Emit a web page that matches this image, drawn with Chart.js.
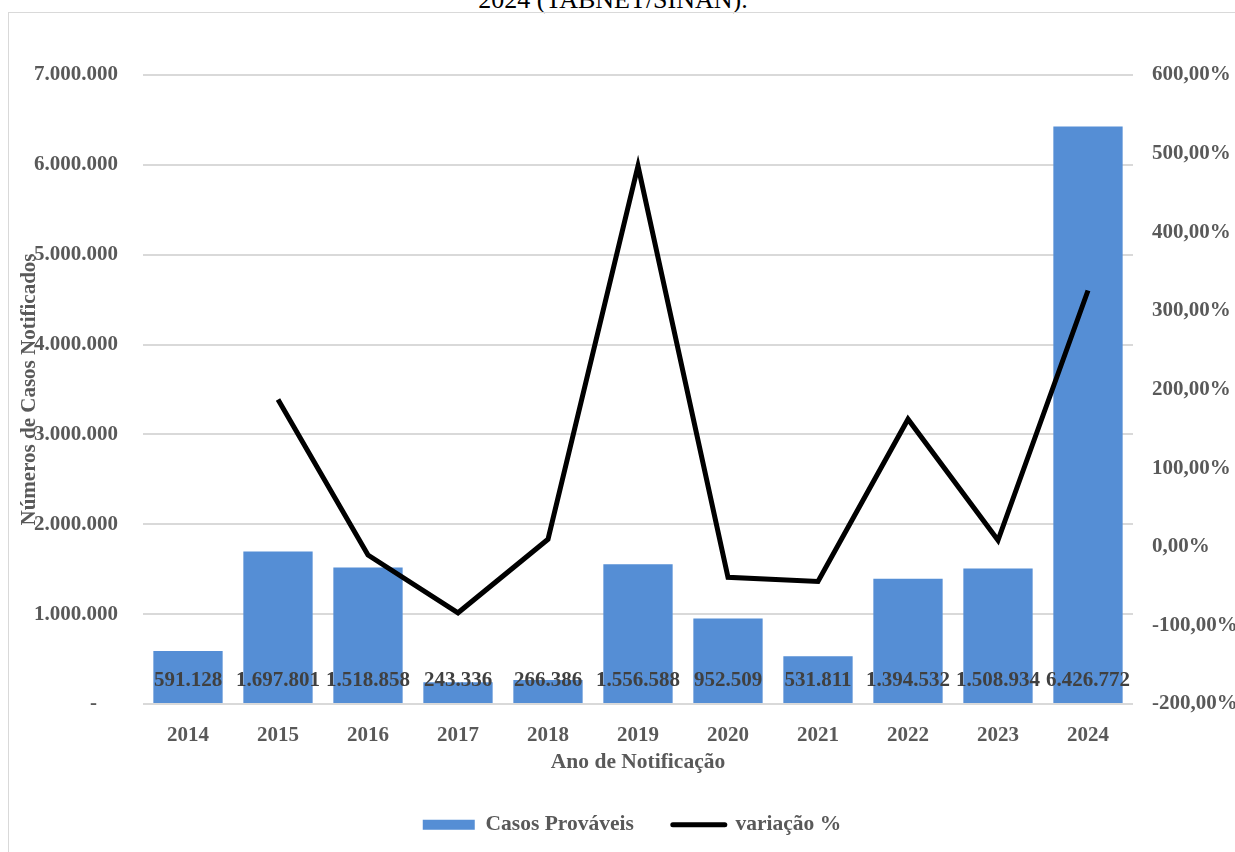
<!DOCTYPE html>
<html>
<head>
<meta charset="utf-8">
<script src="https://cdn.jsdelivr.net/npm/chart.js@4"></script>
<style>
  html, body { margin: 0; padding: 0; background: #fff; overflow: hidden; }
  body { width: 1235px; height: 852px; position: relative; }
  #title {
    position: absolute; left: 0; width: 1226px; top: -13px;
    text-align: center; font: 26px "Liberation Serif", "Times New Roman", serif;
    line-height: 26px; color: #000;
  }
  #frame {
    position: absolute; left: 8px; top: 12px; width: 1240px; height: 850px;
    border: 1px solid #d9d9d9;
  }
  #chart { position: absolute; left: 0; top: 0; }
</style>
</head>
<body>
<div id="title">2024 (TABNET/SINAN).</div>
<div id="frame">
  <canvas id="chart" width="1226" height="839" style="width:1226px;height:839px"></canvas>
</div>
<script>
const anos = ["2014", "2015", "2016", "2017", "2018", "2019", "2020", "2021", "2022", "2023", "2024"];
const casosProvaveis = [591128, 1697801, 1518858, 243336, 266386, 1556588, 952509, 531811, 1394532, 1508934, 6426772];
const variacao = [null, 187.2, -10.5, -84.0, 9.5, 484.3, -38.8, -44.2, 162.2, 8.2, 325.9];

const serif = "'Liberation Serif', 'Times New Roman', serif";
const cinza = "#595959";

function milhar(v) {
  return String(Math.round(v)).replace(/\B(?=(\d{3})+(?!\d))/g, ".");
}

// rótulos de valor dentro das barras
const rotulosBarras = {
  id: "rotulosBarras",
  afterLayout(chart) {
    // legenda um pouco à direita, como no original
    chart.legend.left += 10;
    chart.legend.right += 10;
  },
  afterDatasetsDraw(chart) {
    const meta = chart.getDatasetMeta(0);
    const y0 = chart.scales.y.getPixelForValue(0);
    const ctx = chart.ctx;
    ctx.save();
    ctx.font = "bold 21px " + serif;
    ctx.fillStyle = "#404040";
    ctx.textAlign = "center";
    ctx.textBaseline = "middle";
    meta.data.forEach((bar, i) => {
      ctx.fillText(milhar(casosProvaveis[i]), bar.x, y0 - 23);
    });
    ctx.restore();
  }
};

new Chart(document.getElementById("chart"), {
  data: {
    labels: anos,
    datasets: [
      {
        type: "bar",
        label: "Casos Prováveis",
        data: casosProvaveis,
        backgroundColor: "#558ED5",
        barPercentage: 0.77,
        categoryPercentage: 1,
        yAxisID: "y",
        order: 2
      },
      {
        type: "line",
        label: "variação %",
        data: variacao,
        borderColor: "#000000",
        backgroundColor: "#000000",
        borderWidth: 5,
        pointRadius: 0,
        tension: 0,
        yAxisID: "y1",
        order: 1
      }
    ]
  },
  options: {
    responsive: false,
    animation: false,
    layout: { padding: { left: 0, right: 0, top: 62, bottom: 6.5 } },
    plugins: {
      tooltip: { enabled: false },
      legend: {
        position: "bottom",
        labels: {
          usePointStyle: true,
          pointStyleWidth: 52,
          boxHeight: 10,
          padding: 39,
          color: cinza,
          font: { family: serif, size: 21.5, weight: "bold" },
          sort: (a, b) => a.datasetIndex - b.datasetIndex,
          generateLabels(chart) {
            const items = Chart.defaults.plugins.legend.labels.generateLabels(chart);
            items.forEach(it => {
              if (it.datasetIndex === 0) {
                it.pointStyle = "rect";
                it.lineWidth = 0;
                it.fillStyle = "#558ED5";
              } else {
                it.pointStyle = "line";
                it.lineWidth = 5;
                it.strokeStyle = "#000000";
                it.lineCap = "round";
              }
            });
            return items;
          }
        }
      }
    },
    scales: {
      x: {
        grid: { display: false },
        border: { display: false },
        ticks: {
          color: cinza, padding: 11,
          font: { family: serif, size: 21, weight: "bold" }
        },
        title: {
          display: true, text: "Ano de Notificação", color: cinza,
          padding: { top: 0, bottom: 0 },
          font: { family: serif, size: 21.5, weight: "bold" }
        },
        afterFit(s) { s.height = 71; }
      },
      y: {
        position: "left",
        min: 0, max: 7000000,
        ticks: {
          stepSize: 1000000, color: cinza, padding: 25,
          font: { family: serif, size: 21, weight: "bold" },
          callback: v => v === 0 ? "-    " : milhar(v)
        },
        grid: { color: "#d9d9d9", lineWidth: 2, drawTicks: false },
        border: { display: false },
        title: {
          display: true, text: "Números de Casos Notificados", color: cinza,
          padding: { top: 8, bottom: 0 },
          font: { family: serif, size: 21, weight: "bold" }
        },
        afterFit(s) { s.width = 134; }
      },
      y1: {
        position: "right",
        min: -200, max: 600,
        ticks: {
          stepSize: 100, color: cinza, padding: 19,
          font: { family: serif, size: 21, weight: "bold" },
          callback: v => v.toFixed(2).replace(".", ",") + "%"
        },
        grid: { display: false, drawTicks: false },
        border: { display: false },
        afterFit(s) { s.width = 102; }
      }
    }
  },
  plugins: [rotulosBarras]
});
</script>
</body>
</html>
